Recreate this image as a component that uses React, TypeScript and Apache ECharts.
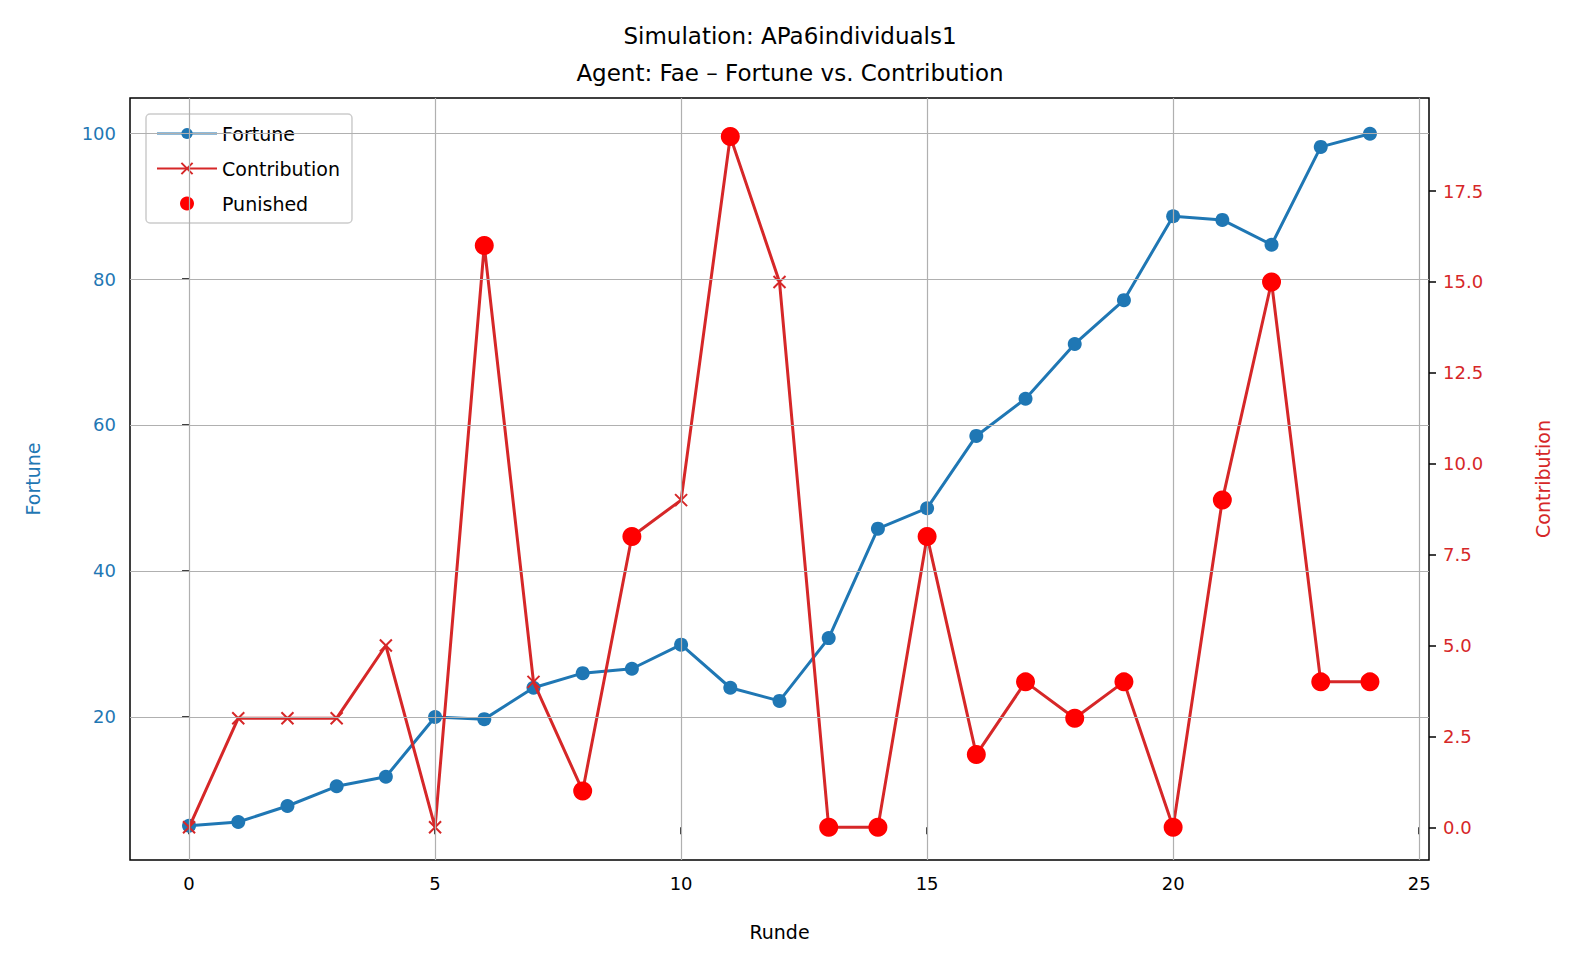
import { useEffect, useRef } from 'react';
import * as echarts from 'echarts';

const rounds = Array.from({ length: 25 }, (_, i) => i);
const fortune = [5.1, 5.6, 7.8, 10.5, 11.8, 20, 19.7, 24, 26, 26.6, 29.9, 24, 22.2, 30.8, 45.8, 48.6, 58.5, 63.6, 71.1, 77.1, 88.6, 88.1, 84.7, 98.1, 99.9];
const contribution = [0, 3, 3, 3, 5, 0, 16, 4, 1, 8, 9, 19, 15, 0, 0, 8, 2, 4, 3, 4, 0, 9, 15, 4, 4];
const punishedRounds = [6, 8, 9, 11, 13, 14, 15, 16, 17, 18, 19, 20, 21, 22, 23, 24];
const xTicks = [0, 5, 10, 15, 20, 25];
const fortuneTicks = [20, 40, 60, 80, 100];
const contribTicks = [0, 2.5, 5, 7.5, 10, 12.5, 15, 17.5];

const FONT = 'DejaVu Sans';
const BLUE = '#1f77b4';
const RED = '#d62728';

export default function App() {
  const divRef = useRef<HTMLDivElement>(null);

  useEffect(() => {
    document.body.style.margin = '0';
    document.body.style.overflow = 'hidden';
    if (!divRef.current) return;
    const chart = echarts.init(divRef.current, undefined, { renderer: 'svg' });

    const gridLines = [
      ...xTicks.map(v => ({ xAxis: v })),
      ...fortuneTicks.map(v => ({ yAxis: v })),
    ];
    const tick = { show: true, inside: false, length: 7, lineStyle: { color: '#000', width: 1.5 } };

    chart.setOption({
      animation: false,
      textStyle: { fontFamily: FONT },
      title: {
        text: 'Simulation: APa6individuals1\nAgent: Fae – Fortune vs. Contribution',
        left: 'center',
        top: 12,
        textStyle: { fontFamily: FONT, fontSize: 23, fontWeight: 'normal', color: '#000', lineHeight: 37 },
      },
      grid: { left: 130, right: 151, top: 98, bottom: 114, show: true, borderColor: '#000', borderWidth: 1.5, backgroundColor: 'transparent' },
      legend: {
        orient: 'vertical',
        left: 146,
        top: 114,
        padding: [10, 12, 10, 10],
        itemGap: 16,
        itemWidth: 60,
        itemHeight: 14,
        backgroundColor: '#fff',
        borderColor: '#ccc',
        borderWidth: 1.5,
        borderRadius: 4,
        textStyle: { fontFamily: FONT, fontSize: 19, color: '#000' },
        data: ['Fortune', 'Contribution', 'Punished'],
      },
      xAxis: {
        type: 'value',
        min: -1.2,
        max: 25.2,
        name: 'Runde',
        nameLocation: 'middle',
        nameGap: 62,
        nameTextStyle: { fontFamily: FONT, fontSize: 19, color: '#000' },
        axisLine: { show: false },
        axisTick: { ...tick, customValues: xTicks },
        axisLabel: { customValues: xTicks, fontSize: 18, color: '#000', margin: 14 },
        splitLine: { show: false },
      },
      yAxis: [
        {
          type: 'value',
          min: 0.4,
          max: 104.8,
          name: 'Fortune',
          nameLocation: 'middle',
          nameGap: 88,
          nameTextStyle: { fontFamily: FONT, fontSize: 19, color: BLUE },
          axisLine: { show: false },
          axisTick: { ...tick, customValues: fortuneTicks },
          axisLabel: { customValues: fortuneTicks, fontSize: 18, color: BLUE, margin: 14 },
          splitLine: { show: false },
        },
        {
          type: 'value',
          min: -0.9,
          max: 20.06,
          position: 'right',
          name: 'Contribution',
          nameLocation: 'middle',
          nameGap: 104,
          nameRotate: 90,
          nameTextStyle: { fontFamily: FONT, fontSize: 19, color: RED },
          axisLine: { show: false },
          axisTick: { ...tick, customValues: contribTicks },
          axisLabel: { customValues: contribTicks, fontSize: 18, color: RED, margin: 14, formatter: (v: number) => v.toFixed(1) },
          splitLine: { show: false },
        },
      ],
      series: [
        {
          name: 'grid',
          type: 'line',
          data: [],
          silent: true,
          markLine: {
            silent: true,
            symbol: 'none',
            label: { show: false },
            lineStyle: { color: '#b0b0b0', width: 1.2, type: 'solid' },
            data: gridLines,
          },
          z: 0,
        },
        {
          name: 'Fortune',
          type: 'line',
          yAxisIndex: 0,
          color: BLUE,
          data: rounds.map((r, i) => [r, fortune[i]]),
          symbol: 'circle',
          symbolSize: 14,
          lineStyle: { color: BLUE, width: 3 },
          itemStyle: { color: BLUE },
          z: 3,
        },
        {
          name: 'Contribution',
          type: 'line',
          yAxisIndex: 1,
          color: RED,
          data: rounds.map((r, i) => [r, contribution[i]]),
          symbol: 'path://M0,0L10,10M10,0L0,10',
          symbolSize: 12,
          lineStyle: { color: RED, width: 3 },
          itemStyle: { color: RED, borderColor: RED, borderWidth: 2 },
          z: 4,
        },
        {
          name: 'Punished',
          type: 'scatter',
          yAxisIndex: 1,
          color: '#ff0000',
          data: punishedRounds.map(r => [r, contribution[r]]),
          symbol: 'circle',
          symbolSize: 19,
          itemStyle: { color: '#ff0000', opacity: 1 },
          z: 5,
        },
      ],
    });

    return () => chart.dispose();
  }, []);

  return <div ref={divRef} style={{ width: 1580, height: 974 }} />;
}
